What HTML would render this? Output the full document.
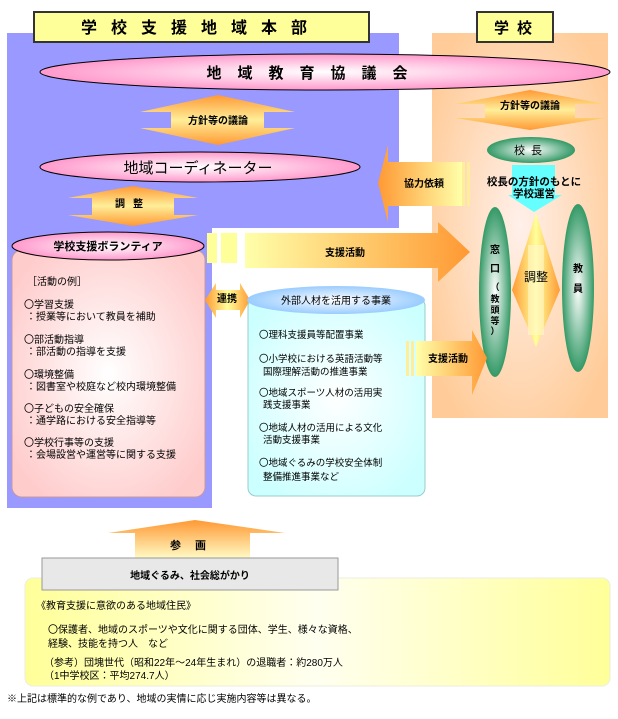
<!DOCTYPE html>
<html><head><meta charset="utf-8"><style>
body{margin:0;background:#fff}
svg text{font-family:"Liberation Sans","Noto Sans CJK JP",sans-serif;fill:#000}
.b{font-weight:bold}
</style></head><body>
<svg width="618" height="714" viewBox="0 0 618 714" xmlns="http://www.w3.org/2000/svg">
<defs>
<radialGradient id="pk" cx="50%" cy="50%" r="50%"><stop offset="0" stop-color="#fff"/><stop offset="1" stop-color="#ff99cc"/></radialGradient>
<radialGradient id="gr" cx="50%" cy="50%" r="50%"><stop offset="0" stop-color="#fff"/><stop offset="1" stop-color="#339966"/></radialGradient>
<radialGradient id="pe" cx="50%" cy="50%" r="60%"><stop offset="0" stop-color="#fff0ea"/><stop offset="1" stop-color="#ffcc99"/></radialGradient>
<radialGradient id="pkb" cx="50%" cy="50%" r="60%"><stop offset="0" stop-color="#fff"/><stop offset="1" stop-color="#ffcccc"/></radialGradient>
<radialGradient id="cy" cx="50%" cy="50%" r="60%"><stop offset="0" stop-color="#fff"/><stop offset="1" stop-color="#ccffff"/></radialGradient>
<radialGradient id="bl" cx="50%" cy="50%" r="50%"><stop offset="0" stop-color="#fff"/><stop offset="1" stop-color="#99ccff"/></radialGradient>
<linearGradient id="ov" x1="0" y1="0" x2="0" y2="1"><stop offset="0" stop-color="#ff9933"/><stop offset=".5" stop-color="#ffee99"/><stop offset="1" stop-color="#ff9933"/></linearGradient>
<linearGradient id="oh" x1="0" y1="0" x2="1" y2="0"><stop offset="0" stop-color="#ffffaa"/><stop offset="1" stop-color="#ff9933"/></linearGradient>
<linearGradient id="ohr" x1="1" y1="0" x2="0" y2="0"><stop offset="0" stop-color="#ffffaa"/><stop offset="1" stop-color="#ff9933"/></linearGradient>
<linearGradient id="up" x1="0" y1="0" x2="0" y2="1"><stop offset="0" stop-color="#ff9933"/><stop offset="1" stop-color="#ffffcc"/></linearGradient>
<linearGradient id="yl" x1="0" y1="0" x2="1" y2="0"><stop offset="0" stop-color="#ffff99"/><stop offset=".5" stop-color="#fffff0"/><stop offset="1" stop-color="#ffff99"/></linearGradient>
<linearGradient id="vc" x1="0" y1="0" x2="1" y2="0"><stop offset="0" stop-color="#ff9933"/><stop offset=".5" stop-color="#ffff99"/><stop offset="1" stop-color="#ff9933"/></linearGradient>
</defs>
<!-- regions -->
<path d="M7 33H399V228H212V508H7Z" fill="#9999ff"/>
<rect x="432" y="33" width="176" height="385" fill="url(#pe)"/>
<rect x="34" y="12" width="335" height="30" fill="#ffff99" stroke="#333" stroke-width="2"/>
<text x="201" y="33" font-size="16" text-anchor="middle" class="b" letter-spacing="14">学校支援地域本部</text>
<rect x="477" y="12" width="76" height="30" fill="#ffff99" stroke="#333" stroke-width="2"/>
<text x="517" y="33" font-size="15" text-anchor="middle" class="b" letter-spacing="8">学校</text>
<!-- big ellipse -->
<ellipse cx="325" cy="72" rx="285" ry="18" fill="url(#pk)" stroke="#000"/>
<text x="315" y="78" font-size="15" text-anchor="middle" class="b" letter-spacing="16">地域教育協議会</text>
<!-- left 方針 arrow -->
<path d="M218 95L295 112H264V128H295L218 145L140 128H171V112H140Z" fill="url(#ov)"/>
<text x="218" y="124" font-size="10" class="b" text-anchor="middle">方針等の議論</text>
<ellipse cx="200" cy="167" rx="160" ry="15" fill="url(#pk)" stroke="#000"/>
<text x="198" y="173" font-size="15" text-anchor="middle">地域コーディネーター</text>
<path d="M133 186L198 198H174V215H198L133 226L68 215H92V198H68Z" fill="url(#ov)"/>
<text x="133" y="207" font-size="10" class="b" text-anchor="middle" letter-spacing="8">調整</text>
<!-- 協力依頼 -->
<path d="M378 183L388 145V162H462V206H388V222Z" fill="url(#ohr)"/>
<rect x="462" y="162" width="3" height="44" fill="#ffee99"/><rect x="467" y="162" width="3" height="44" fill="#ffee99"/>
<text x="424" y="187" font-size="10" class="b" text-anchor="middle">協力依頼</text>
<!-- right -->
<path d="M530 90L605 104H575V118H605L530 130L455 118H485V104H455Z" fill="url(#ov)"/>
<text x="530" y="109" font-size="10" class="b" text-anchor="middle">方針等の議論</text>
<ellipse cx="531" cy="150" rx="44" ry="13" fill="url(#gr)"/>
<text x="531" y="154" font-size="11" text-anchor="middle" letter-spacing="6">校長</text>
<path d="M512 165H555V195H562L534 212L508 195H512Z" fill="#66ffff"/>
<text x="534" y="185" font-size="10.5" class="b" text-anchor="middle">校長の方針のもとに</text>
<text x="534" y="197" font-size="10.5" class="b" text-anchor="middle">学校運営</text>
<path d="M536 213L560 290L536 347L512 290Z" fill="url(#vc)"/>
<rect x="528" y="245" width="16" height="90" fill="#fff8cc" opacity=".6"/>
<text x="536" y="281" font-size="12" text-anchor="middle">調整</text>
<ellipse cx="495" cy="292" rx="16" ry="85" fill="url(#gr)"/>
<text x="495" y="253" font-size="10" class="b" text-anchor="middle">窓</text>
<text x="495" y="272" font-size="10" class="b" text-anchor="middle">口</text>
<text x="495" y="290" font-size="9" class="b" text-anchor="middle">（</text>
<text x="495" y="302" font-size="9" class="b" text-anchor="middle">教</text>
<text x="495" y="313" font-size="9" class="b" text-anchor="middle">頭</text>
<text x="495" y="324" font-size="9" class="b" text-anchor="middle">等</text>
<text x="495" y="334" font-size="9" class="b" text-anchor="middle">）</text>
<ellipse cx="578" cy="288" rx="16" ry="84" fill="url(#gr)"/>
<text x="578" y="272" font-size="10" class="b" text-anchor="middle">教</text>
<text x="578" y="292" font-size="10" class="b" text-anchor="middle">員</text>
<!-- 支援活動 big arrow -->
<rect x="207" y="233" width="10" height="30" fill="#ffff99"/><rect x="221" y="233" width="16" height="30" fill="#ffff99"/>
<path d="M245 233H438V222L470 252L438 282V268H245Z" fill="url(#oh)"/>
<text x="345" y="256" font-size="10" class="b" text-anchor="middle">支援活動</text>
<!-- volunteers -->
<rect x="12" y="250" width="193" height="247" rx="10" fill="url(#pkb)" stroke="#c99" />
<ellipse cx="108" cy="246" rx="96" ry="14" fill="url(#pk)" stroke="#000"/>
<text x="108" y="250" font-size="11" class="b" text-anchor="middle">学校支援ボランティア</text>
<g font-size="10">
<text x="27" y="285">［活動の例］</text>
<text x="24" y="308">〇学習支援</text><text x="26" y="320">：授業等において教員を補助</text>
<text x="24" y="343">〇部活動指導</text><text x="26" y="355">：部活動の指導を支援</text>
<text x="24" y="378">〇環境整備</text><text x="26" y="390">：図書室や校庭など校内環境整備</text>
<text x="24" y="412">〇子どもの安全確保</text><text x="26" y="424">：通学路における安全指導等</text>
<text x="24" y="446">〇学校行事等の支援</text><text x="26" y="458">：会場設営や運営等に関する支援</text>
</g>
<!-- 連携 -->
<path d="M205 300L216 283V290H240V283L250 300L240 318V310H216V318Z" fill="url(#vc)"/>
<text x="227" y="302" font-size="10" class="b" text-anchor="middle">連携</text>
<!-- external -->
<rect x="248" y="298" width="177" height="198" rx="8" fill="url(#cy)" stroke="#9cc"/>
<ellipse cx="336" cy="300" rx="89" ry="14" fill="url(#bl)"/>
<text x="336" y="304" font-size="10" text-anchor="middle">外部人材を活用する事業</text>
<g font-size="9.5">
<text x="259" y="338">〇理科支援員等配置事業</text>
<text x="259" y="362">〇小学校における英語活動等</text><text x="263" y="375">国際理解活動の推進事業</text>
<text x="259" y="396">〇地域スポーツ人材の活用実</text><text x="263" y="408">践支援事業</text>
<text x="259" y="431">〇地域人材の活用による文化</text><text x="263" y="443">活動支援事業</text>
<text x="259" y="466">〇地域ぐるみの学校安全体制</text><text x="263" y="480">整備推進事業など</text>
</g>
<!-- lower 支援活動 -->
<rect x="406" y="341" width="3" height="35" fill="#ffee99"/><rect x="411" y="341" width="3" height="35" fill="#ffee99"/>
<path d="M416 341H472V330L487 358L472 395V376H416Z" fill="url(#oh)"/>
<text x="448" y="362" font-size="10" class="b" text-anchor="middle">支援活動</text>
<!-- bottom -->
<path d="M108 533L195 520L285 533H250V560H135V533Z" fill="url(#up)"/>
<text x="195" y="549" font-size="11" class="b" text-anchor="middle" letter-spacing="14">参画</text>
<rect x="25" y="578" width="585" height="108" rx="8" fill="url(#yl)" stroke="#eed" />
<rect x="42" y="558" width="296" height="32" fill="#e8e8e8" stroke="#999"/>
<text x="190" y="579" font-size="10" class="b" text-anchor="middle">地域ぐるみ、社会総がかり</text>
<g font-size="10">
<text x="36" y="609">《教育支援に意欲のある地域住民》</text>
<text x="48" y="633">〇保護者、地域のスポーツや文化に関する団体、学生、様々な資格、</text>
<text x="48" y="647">経験、技能を持つ人　など</text>
<text x="44" y="666">（参考）団塊世代（昭和22年〜24年生まれ）の退職者：約280万人</text>
<text x="44" y="679">（1中学校区：平均274.7人）</text>
<text x="7" y="702">※上記は標準的な例であり、地域の実情に応じ実施内容等は異なる。</text>
</g>
</svg>
</body></html>
